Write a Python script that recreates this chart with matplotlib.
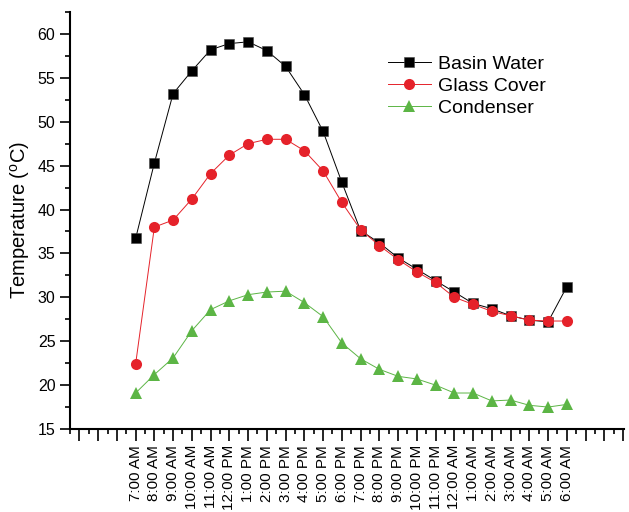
import numpy as np
import matplotlib.pyplot as plt
from matplotlib.ticker import FixedLocator, MultipleLocator

plt.rcParams['font.family'] = ['Liberation Sans', 'DejaVu Sans']
plt.rcParams['mathtext.fontset'] = 'custom'
plt.rcParams['mathtext.rm'] = 'Liberation Sans'

hours = ['7:00 AM', '8:00 AM', '9:00 AM', '10:00 AM', '11:00 AM', '12:00 PM',
         '1:00 PM', '2:00 PM', '3:00 PM', '4:00 PM', '5:00 PM', '6:00 PM',
         '7:00 PM', '8:00 PM', '9:00 PM', '10:00 PM', '11:00 PM', '12:00 AM',
         '1:00 AM', '2:00 AM', '3:00 AM', '4:00 AM', '5:00 AM', '6:00 AM']

basin_water = [36.7, 45.3, 53.2, 55.8, 58.2, 58.9, 59.1, 58.1, 56.3, 53.1, 48.9, 43.1,
               37.6, 36.2, 34.5, 33.2, 31.9, 30.6, 29.3, 28.7, 27.9, 27.4, 27.2, 31.2]
glass_cover = [22.4, 38.0, 38.8, 41.2, 44.1, 46.2, 47.5, 48.0, 48.0, 46.7, 44.4, 40.8,
               37.7, 35.9, 34.3, 32.9, 31.7, 30.0, 29.2, 28.4, 27.9, 27.4, 27.3, 27.3]
condenser = [19.1, 21.2, 23.1, 26.2, 28.6, 29.6, 30.3, 30.6, 30.7, 29.4, 27.8, 24.8,
             23.0, 21.8, 21.0, 20.7, 20.0, 19.1, 19.1, 18.2, 18.3, 17.7, 17.5, 17.8]

x = np.arange(len(hours))

fig = plt.figure(figsize=(6.29, 5.12), dpi=100)
ax = fig.add_axes([0.1113, 0.1621, 0.8807, 0.8145])

ax.plot(x, basin_water, '-s', color='black', lw=0.7, ms=7, mec='#444444', mew=0.4,
        label='Basin Water')
ax.plot(x, glass_cover, '-o', color='#e5222a', lw=0.7, ms=8, mew=0,
        label='Glass Cover')
ax.plot(x, condenser, '-^', color='#5cb545', lw=0.7, ms=9, mew=0,
        label='Condenser')

ax.set_xlim(-3.5, 26.05)
ax.set_ylim(15, 62.5)

# hour ticks along the whole axis, labels only where there is data
major = np.arange(-3, 27)
ax.xaxis.set_major_locator(FixedLocator(major))
ax.set_xticklabels([hours[int(m)] if 0 <= m < len(hours) else '' for m in major],
                   rotation=90, fontsize=11)
ax.xaxis.set_minor_locator(FixedLocator(np.arange(-3.5, 26, 1.0)))

ax.yaxis.set_major_locator(MultipleLocator(5))
ax.yaxis.set_minor_locator(MultipleLocator(2.5))
ax.tick_params(axis='y', labelsize=11.5)
ax.tick_params(which='major', direction='out', length=7, width=1.2)
ax.tick_params(which='minor', direction='out', length=3.5, width=1.2)
ax.tick_params(axis='x', which='major', length=8.5, pad=3)

for s in ['top', 'right']:
    ax.spines[s].set_visible(False)
for s in ['left', 'bottom']:
    ax.spines[s].set_linewidth(1.5)

ax.set_ylabel('Temperature ($\\mathrm{^{o}}$C)', fontsize=14.5, labelpad=4)

ax.legend(loc='upper left', bbox_to_anchor=(0.56, 0.915), frameon=False, fontsize=14,
          handlelength=2.2, handletextpad=0.35, labelspacing=0.22, borderaxespad=0)

fig.savefig('out.png', dpi=100)
